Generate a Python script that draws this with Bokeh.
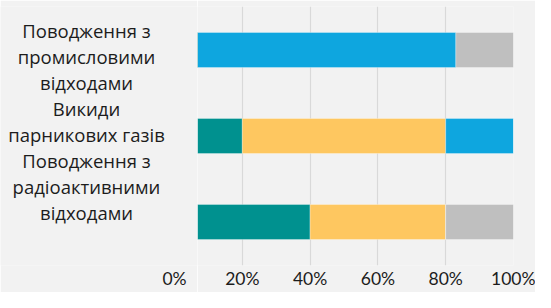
from bokeh.plotting import figure
from bokeh.layouts import row
from bokeh.models import ColumnDataSource, Range1d, FixedTicker
from bokeh.core.properties import value
from bokeh.embed import file_html
from bokeh.resources import INLINE

# ---- data ----
categories = [
    "Поводження з\nпромисловими\nвідходами",
    "Викиди\nпарникових газів",
    "Поводження з\nрадіоактивними\nвідходами",
]
series_names = ["s1", "s2", "s3", "s4"]
s1 = [0.00, 0.20, 0.40]   # teal
s2 = [0.00, 0.60, 0.40]   # yellow
s3 = [0.83, 0.20, 0.00]   # blue
s4 = [0.17, 0.00, 0.20]   # gray
x_ticks = [0.0, 0.2, 0.4, 0.6, 0.8, 1.0]
x_tick_labels = ["0%", "20%", "40%", "60%", "80%", "100%"]

colors = ["#00918F", "#FEC760", "#0EA6DF", "#BFBFBF"]
BG = "#F2F2F2"
TXT = "#1c1c1c"

# ---- layout (canvas pixels) ----
W, H = 535, 292
LEFT_W = 197                      # bars are clipped at this x
X0_PX, X1_PX = 174, 513           # where 0% and 100% sit
FRAME_T, FRAME_B = 6, 265
PX_PER_CAT = 86
BAR_PX = 35
TICK_FONT = "17.5px"
LABEL_STANDOFF = 2


def x_of(px):
    return (px - X0_PX) / (X1_PX - X0_PX)


n = len(categories)
half = (FRAME_B - FRAME_T) / PX_PER_CAT / 2
ymid = (n - 1) / 2
y_range = Range1d(ymid + half, ymid - half)


def y_of(py):
    return (ymid - half) + (py - FRAME_T) / PX_PER_CAT


ypos = list(range(n))
source = ColumnDataSource(dict(y=ypos, s1=s1, s2=s2, s3=s3, s4=s4))


def style_axis(fig, ticks):
    ax = fig.xaxis[0]
    ax.ticker = FixedTicker(ticks=ticks)
    ax.major_label_overrides = {t: l for t, l in zip(x_ticks, x_tick_labels)}
    ax.axis_line_color = None
    ax.major_tick_line_color = None
    ax.minor_tick_line_color = None
    ax.major_tick_out = 0
    ax.major_tick_in = 0
    ax.minor_tick_out = 0
    ax.major_label_standoff = LABEL_STANDOFF
    ax.major_label_text_font = "Lato"
    ax.major_label_text_font_size = TICK_FONT
    ax.major_label_text_color = TXT


# ---- right figure: the bars ----
p = figure(
    width=W - LEFT_W, height=H,
    output_backend="svg", toolbar_location=None,
    x_range=Range1d(x_of(LEFT_W), 1.0), y_range=y_range,
    y_axis_location=None,
    min_border_left=0, min_border_right=W - X1_PX,
    min_border_top=FRAME_T, min_border_bottom=H - FRAME_B,
)
p.background_fill_color = BG
p.border_fill_color = BG
p.outline_line_color = None

p.hbar_stack(series_names, y="y", height=BAR_PX / PX_PER_CAT, color=colors,
             source=source, line_color="white", line_alpha=0.3, line_width=1)

style_axis(p, x_ticks[1:])
p.xgrid.ticker = FixedTicker(ticks=x_ticks[1:])
p.xgrid.grid_line_color = "#D9D9D9"
p.xgrid.grid_line_width = 1.2
p.ygrid.grid_line_color = None

# ---- left figure: category labels and the 0% tick ----
q = figure(
    width=LEFT_W, height=H,
    output_backend="svg", toolbar_location=None,
    x_range=Range1d(x_of(0), x_of(LEFT_W)), y_range=y_range,
    y_axis_location=None,
    min_border_left=0, min_border_right=0,
    min_border_top=FRAME_T, min_border_bottom=H - FRAME_B,
)
q.background_fill_color = BG
q.border_fill_color = BG
q.outline_line_color = None
q.grid.visible = False
style_axis(q, x_ticks[:1])

lines = [ln for c in categories for ln in c.split("\n")]
LINE_H, FIRST_LINE_Y, LABEL_CX = 26, 30, 86
q.text(x=[x_of(LABEL_CX)] * len(lines),
       y=[y_of(FIRST_LINE_Y + LINE_H * i) for i in range(len(lines))],
       text=lines, text_align="center", text_baseline="middle",
       text_font=value("Open Sans"), text_font_size="18.5px", text_color=TXT)

layout = row(q, p, spacing=0)
open("out.html", "w").write(file_html(layout, INLINE))
